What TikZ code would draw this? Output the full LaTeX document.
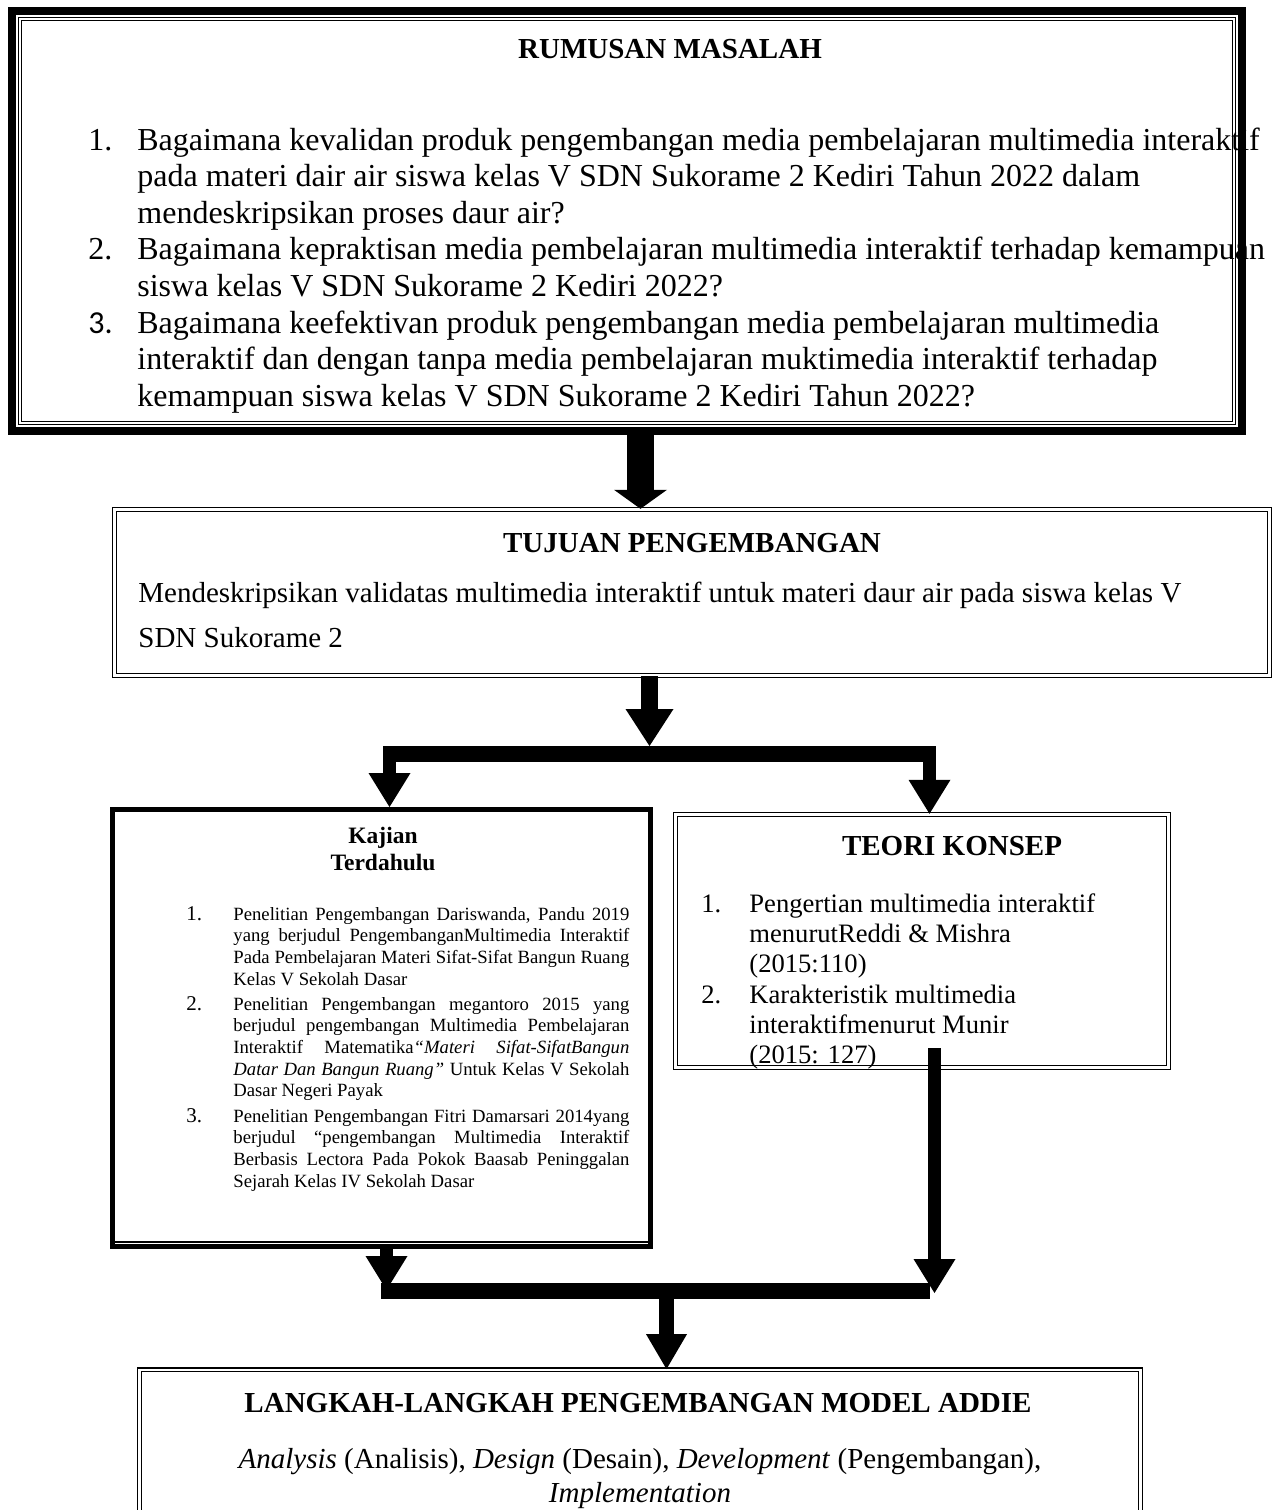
\documentclass[tikz,border=0pt]{standalone}
\usepackage{fontspec}
\setmainfont{Liberation Serif}
\newfontfamily\numfont{Carlito}
\newcommand{\nobreakhyph}{\hyphenpenalty=10000\exhyphenpenalty=10000\tolerance=9999\relax}
\usepackage{tikz}
\usetikzlibrary{arrows.meta}

\begin{document}
\begin{tikzpicture}[x=0.5pt, y=-0.5pt,
  heavy/.style = {draw, line width=4pt, inner sep=0pt},
  bold/.style = {draw, line width=2.5pt, inner sep=0pt},
  dbl/.style = {draw, double, line width=0.6pt, double distance=1.2pt, inner sep=0pt},
  head/.style = {font=\bfseries\fontsize{14.5}{17}\selectfont, anchor=base, inner sep=0pt},
  big/.style = {font=\fontsize{16}{18.3}\selectfont, anchor=base west, inner sep=0pt, align=left},
  mid/.style = {font=\fontsize{14.5}{22.5}\selectfont, anchor=base west, inner sep=0pt, align=left},
  teks/.style = {font=\fontsize{13.3}{15.1}\selectfont, anchor=base west, inner sep=0pt, align=left},
  small/.style = {font=\fontsize{9.35}{10.85}\selectfont, text width=198pt, align=justify, anchor=base west, inner sep=0pt},
  num/.style = {font=\fontsize{10.5}{12}\selectfont, anchor=base west, inner sep=0pt},
  bar/.style = {line width=8pt},
  tipA/.style = {line width=13.5pt, -{Triangle[width=26.5pt, length=9.5pt, line width=0pt]}},
  tipB/.style = {line width=8.5pt, -{Triangle[width=24pt, length=18.5pt, line width=0pt]}},
  tipC/.style = {line width=6.5pt, -{Triangle[width=21pt, length=17pt, line width=0pt]}},
  tipD/.style = {line width=7.5pt, -{Triangle[width=20.5pt, length=17.5pt, line width=0pt]}}]
\useasboundingbox (0,0) rectangle (1274,1510);
\clip (0,0) rectangle (1274,1510);

%% boxes
\node[heavy, minimum width=615pt, minimum height=210pt] (rumusan) at (627,221) {};
\draw[double, line width=0.4pt, double distance=1pt] ([shift={(12,12)}]rumusan.north west) rectangle ([shift={(-12,-12)}]rumusan.south east);
\node[dbl, minimum width=577.6pt, minimum height=83.1pt] (tujuan) at (692,592.5) {};
\node[bold, minimum width=269pt, minimum height=218.5pt] (kajian) at (381.5,1028) {};
\draw[line width=0.6pt] ([shift={(5,-7)}]kajian.south west) -- ([shift={(-5,-7)}]kajian.south east);
\node[dbl, minimum width=246.6pt, minimum height=126.6pt] (teori) at (922,941) {};
\node[dbl, minimum width=500.6pt, minimum height=85.3pt] (langkah) at (640,1455) {};

%% rumusan masalah (multi-line nodes sit on their last line)
\node[head] (rumusanhead) at (670,58) {RUMUSAN MASALAH};
\node[big] (r1) at (88,150) {1.};
\node[big] (q1) at (137,223.2) {Bagaimana kevalidan produk pengembangan media pembelajaran multimedia interaktif\\
  pada materi dair air siswa kelas V SDN Sukorame 2 Kediri Tahun 2022 dalam\\
  mendeskripsikan proses daur air?};
\node[big] (r2) at (88,259.8) {2.};
\node[big] (q2) at (137,296.4) {Bagaimana kepraktisan media pembelajaran multimedia interaktif terhadap kemampuan\\
  siswa kelas V SDN Sukorame 2 Kediri 2022?};
\node[big] (r3) at (88,333) {\numfont 3.};
\node[big] (q3) at (137,406.2) {Bagaimana keefektivan produk pengembangan media pembelajaran multimedia\\
  interaktif dan dengan tanpa media pembelajaran muktimedia interaktif terhadap\\
  kemampuan siswa kelas V SDN Sukorame 2 Kediri Tahun 2022?};

%% tujuan pengembangan
\node[head] (tujuanhead) at (692,552) {TUJUAN PENGEMBANGAN};
\node[mid] (tujuantext) at (138,647) {Mendeskripsikan validatas multimedia interaktif untuk materi daur air pada siswa kelas V\\
  SDN Sukorame 2};

%% kajian terdahulu
\node[head, font=\bfseries\fontsize{11.75}{13.5}\selectfont, align=center] (kajianhead) at (383,870) {Kajian\\ Terdahulu};
\node[num] (k1) at (186,920) {1.};
\node[small] (p1) at (233,920) {\nobreakhyph Penelitian Pengembangan Dariswanda, Pandu 2019\linebreak
  yang berjudul PengembanganMultimedia Interaktif\linebreak
  Pada Pembelajaran Materi Sifat-Sifat Bangun Ruang\linebreak
  Kelas V Sekolah Dasar};
\node[num] (k2) at (186,1010) {2.};
\node[small] (p2) at (233,1010) {\nobreakhyph Penelitian Pengembangan megantoro 2015 yang\linebreak
  berjudul pengembangan Multimedia Pembelajaran\linebreak
  Interaktif Matematika\textit{“Materi Sifat-SifatBangun}\linebreak
  \textit{Datar Dan Bangun Ruang”} Untuk Kelas V Sekolah\linebreak
  Dasar Negeri Payak};
\node[num] (k3) at (186,1122) {3.};
\node[small] (p3) at (233,1122) {\nobreakhyph Penelitian Pengembangan Fitri Damarsari 2014yang\linebreak
  berjudul “pengembangan Multimedia Interaktif\linebreak
  Berbasis Lectora Pada Pokok Baasab Peninggalan\linebreak
  Sejarah Kelas IV Sekolah Dasar};

%% teori konsep
\node[head] (teorihead) at (952,855) {TEORI KONSEP};
\node[teks] (t1) at (701,912) {1.};
\node[teks] (c1) at (749,972.4) {Pengertian multimedia interaktif\\ menurutReddi \& Mishra\\ (2015:110)};
\node[teks] (t2) at (701,1003) {2.};
\node[teks] (c2) at (749,1063.4) {Karakteristik multimedia\\ interaktifmenurut Munir\\ (2015: 127)};

%% langkah-langkah
\node[head] (langkahhead) at (638,1412) {LANGKAH-LANGKAH PENGEMBANGAN MODEL ADDIE};
\node[head, font=\fontsize{14.5}{17}\selectfont, align=center] (langkahtext) at (640,1502)
  {\textit{Analysis} (Analisis), \textit{Design} (Desain), \textit{Development} (Pengembangan),\\ \textit{Implementation}};

%%% arrows
\coordinate (colA) at (640.5,0);
\coordinate (split) at (649.5,746);
\coordinate (forkL) at (389.5,754);
\coordinate (forkR) at (929.5,754);
\coordinate (joinL) at (386.5,1290);
\coordinate (teorifoot) at (934.5,1048);
\coordinate (joinR) at (934.5,1293);
\coordinate (merge) at (666.5,1299);

\draw[tipA] (rumusan.south -| colA) -- (tujuan.north -| colA);
\draw[tipB] (tujuan.south -| split) -- (split);
\draw[bar] (383,754) -- (936,754);
\draw[tipC] (forkL) -- (kajian.north -| forkL);
\draw[tipC] (forkR) -- (teori.north -| forkR);
\draw[tipC] (kajian.south -| joinL) -- (joinL);
\draw[tipC] (teorifoot) -- (joinR);
\draw[bar] (381,1291) -- (930,1291);
\draw[tipD] (merge) -- (langkah.north -| merge);

\end{tikzpicture}
\end{document}
